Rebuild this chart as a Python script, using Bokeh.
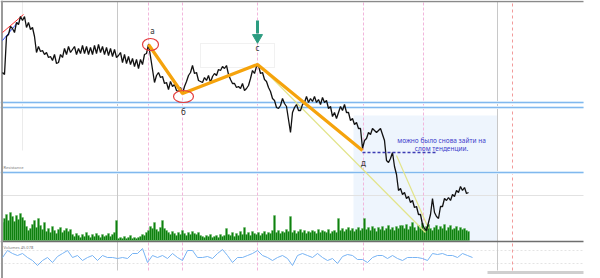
from bokeh.plotting import figure
from bokeh.models import Range1d
from bokeh.embed import file_html
from bokeh.resources import INLINE
from bokeh.core.properties import value

# ---------------- data ----------------
# close price in index points, one bar every 2 time units starting at t=2
price = [206,204,242,244,252,250,246,256,254,262,258,262,251,256,249,251,242,226,232,227,
         228,224,226,221,222,218,224,215,216,224,221,230,224,232,226,229,232,224,230,225,
         233,225,232,224,231,224,233,225,234,226,232,224,231,223,230,222,229,221,223,226,
         216,224,215,222,214,220,212,219,210,219,214,224,225,234,222,209,196,203,206,201,
         202,195,196,189,197,192,194,188,187,191,185,192,197,203,206,213,205,206,198,197,
         196,201,198,203,196,202,205,203,209,208,212,210,213,204,199,195,195,191,192,190,
         195,188,190,193,200,208,205,212,213,205,206,199,197,191,187,180,178,171,170,173,
         180,175,172,159,146,166,171,174,168,168,174,176,182,176,180,177,182,176,179,174,
         181,176,178,170,172,162,166,160,166,172,168,174,166,166,158,160,154,156,150,150,
         130,138,140,146,144,150,148,146,148,150,144,138,118,116,120,126,112,104,88,90,
         84,86,80,82,76,78,71,72,64,64,54,50,48,56,64,80,66,62,60,72,
         72,80,78,81,78,84,82,88,86,92,88,91,85,86]

volume = [18,22,26,20,28,24,19,25,21,27,23,20,
          14,10,12,16,20,13,22,15,11,18,
          9,12,8,14,10,7,11,13,8,10,12,9,11,
          6,4,7,5,3,6,4,8,5,3,6,4,7,5,3,6,4,5,7,4,6,8,
          20,
          2,3,2,4,2,3,5,2,3,2,3,4,6,5,8,
          10,14,12,18,11,9,13,20,12,10,
          8,6,9,7,5,8,6,10,7,5,8,6,9,7,6,8,5,
          4,3,5,4,6,3,4,5,3,6,4,5,
          12,
          6,5,8,4,7,5,9,6,
          13,
          6,8,5,9,7,6,8,5,7,9,6,8,7,10,
          25,
          8,10,7,9,8,11,9,
          24,
          8,10,7,9,11,8,10,7,9,8,10,9,7,11,8,10,9,8,11,7,9,10,8,
          22,
          10,12,9,11,13,10,12,9,11,13,10,12,
          22,
          11,13,10,14,12,9,13,11,14,10,12,15,11,13,10,14,12,15,
          15,12,16,11,14,18,13,10,15,12,17,11,14,16,12,10,13,15,11,14,12,16,10,13,15,11,12,14,10,13,11,12,10,9]

# oscillator in the lower panel, one value every 5 time units starting at t=2
indicator = [-2,5,2,0,2,-2,-5,-10,-5,-2,-7,-1,2,5,-2,0,-5,-2,0,-5,
             0,-2,-2,-3,-2,-3,2,2,7,-7,0,-2,0,-3,2,-2,-5,5,5,-2,
             -2,-1,-3,2,6,0,-7,-2,-2,0,2,5,0,-2,-5,-2,0,-3,-10,0,
             2,0,-2,2,-2,-5,-3,-8,-1,1,0,-4,-4,-7,-2,0,0,-3,0,-3,
             -5,-2,-2,-2,-3,-5,2,1,2,0,0,-2,2,0,-2]

# wave a-б-c-д
wave_t = [148, 182, 257, 362]
wave_p = [234, 185, 214, 128]
wave_labels = ["а", "б", "с", "д"]

levels_blue = [176, 171, 106]          # horizontal levels
event_times = [148, 182, 257, 363, 423]  # pink markers
session_times = [117, 497]
future_time = 512

note_lines = ["можно было снова зайти на", "слом тенденции."]

# ---------------- figure ----------------
t_price = [2 + 2 * i for i in range(len(price))]
t_vol = [2 + 2 * i for i in range(len(volume))]
t_ind = [2 + 5 * i for i in range(len(indicator))]

p = figure(width=600, height=278, x_range=Range1d(0, 600), y_range=Range1d(0, 278),
           output_backend="svg", toolbar_location=None, min_border=0)
p.axis.visible = False
p.grid.visible = False
p.outline_line_color = None
p.background_fill_color = "white"
p.extra_y_ranges = {"vol": Range1d(-38, 240), "ind": Range1d(-23, 255)}

FONT = value("Noto Sans")
XR = 583

# shaded zone
p.quad(left=353, right=497, top=163, bottom=37, fill_color="#eef5fd", line_color=None)
# faint box around c
p.quad(left=200, right=274, top=235, bottom=211, fill_color=None, line_color="#e2e2e2", line_dash="1 1")

# grid-ish lines
p.segment(x0=0, x1=XR, y0=83, y1=83, line_color="#e2e2e2", line_width=1)
p.segment(x0=22, x1=22, y0=128, y1=278, line_color="#ebebeb", line_width=1)
for v in (5, -8):
    p.segment(x0=0, x1=XR, y0=v, y1=v, y_range_name="ind", line_color="#e4e4e4", line_dash="2 2")

# verticals
p.segment(x0=session_times, x1=session_times, y0=8, y1=277, line_color="#c8c8c8", line_width=1)
p.segment(x0=event_times, x1=event_times, y0=8, y1=277, line_color="#f2b6dc", line_width=1, line_dash="3 2")
p.segment(x0=[future_time], x1=[future_time], y0=8, y1=277, line_color="#f29a9a", line_width=1, line_dash="3 3")

# horizontal levels
p.segment(x0=0, x1=XR, y0=levels_blue, y1=levels_blue, line_color="#d8ebfb", line_width=3)
p.segment(x0=0, x1=XR, y0=levels_blue, y1=levels_blue, line_color="#80b8ee", line_width=1.2)

# volume
p.vbar(x=t_vol, top=volume, bottom=0, width=2, y_range_name="vol",
       fill_color="#0f800f", line_color="#5fb85f", line_width=0.4)

# separators / borders
p.segment(x0=0, x1=XR, y0=-1, y1=-1, y_range_name="vol", line_color="#6e6e6e", line_width=1.5)
p.segment(x0=0, x1=XR, y0=277, y1=277, line_color="#8a8a8a", line_width=1.5)
p.segment(x0=1.5, x1=1.5, y0=0, y1=278, line_color="#9a9a9a", line_width=2)
p.segment(x0=487, x1=XR, y0=6, y1=6, line_color="#cfcfcf", line_width=3)

# indicator
p.line(t_ind, indicator, y_range_name="ind", line_color="#78b4f4", line_width=1)

# trend lines
p.line([260, 425], [212, 46], line_color="#e2e48a", line_width=1.2)
p.line([396, 428], [123, 50], line_color="#e2e48a", line_width=1.2)
p.line([2, 23], [246, 264], line_color="#ff3030", line_width=1)
p.line([2, 17], [238, 256], line_color="#3050ff", line_width=1)

# price
p.line(t_price, price, line_color="#111111", line_width=1.3)

# wave
p.line(wave_t, wave_p, line_color="#f5a30c", line_width=3.2)
p.ellipse(x=[wave_t[0] + 2, wave_t[1] + 1], y=[wave_p[0], wave_p[1] - 3], width=[16, 20], height=[12, 12],
          fill_color=None, line_color="#e43c3c", line_width=1.2)
p.text(x=wave_t, y=wave_p, text=wave_labels, x_offset=[4, 1, 0, 1], y_offset=[-14, 18, -17, 12],
       text_font=FONT, text_font_size="8px", text_color="#333333",
       text_align="center", text_baseline="middle")

# dashed entry level
p.line([362, 435], [126, 126], line_color="#3c3cb4", line_width=1.5, line_dash="3 2")

# arrow
p.segment(x0=257, x1=257, y0=258, y1=245, line_color="#2c9c80", line_width=3)
p.scatter(x=[257], y=[241], marker="inverted_triangle", size=10, fill_color="#2c9c80", line_color="#2c9c80")

# note
p.text(x=[441, 441], y=[138, 130], text=note_lines, text_font=FONT, text_font_size="6.5px",
       text_color="#3d3dcc", text_align="center", text_baseline="middle")

# small labels
p.text(x=[3], y=[109], text=["Resistance"], text_font=FONT, text_font_size="4px", text_color="#777777",
       text_baseline="bottom")
p.text(x=[3], y=[34], text=["Volumes 45.078"], text_font=FONT, text_font_size="4px", text_color="#777777",
       text_baseline="top")

open("out.html", "w").write(file_html(p, INLINE))
